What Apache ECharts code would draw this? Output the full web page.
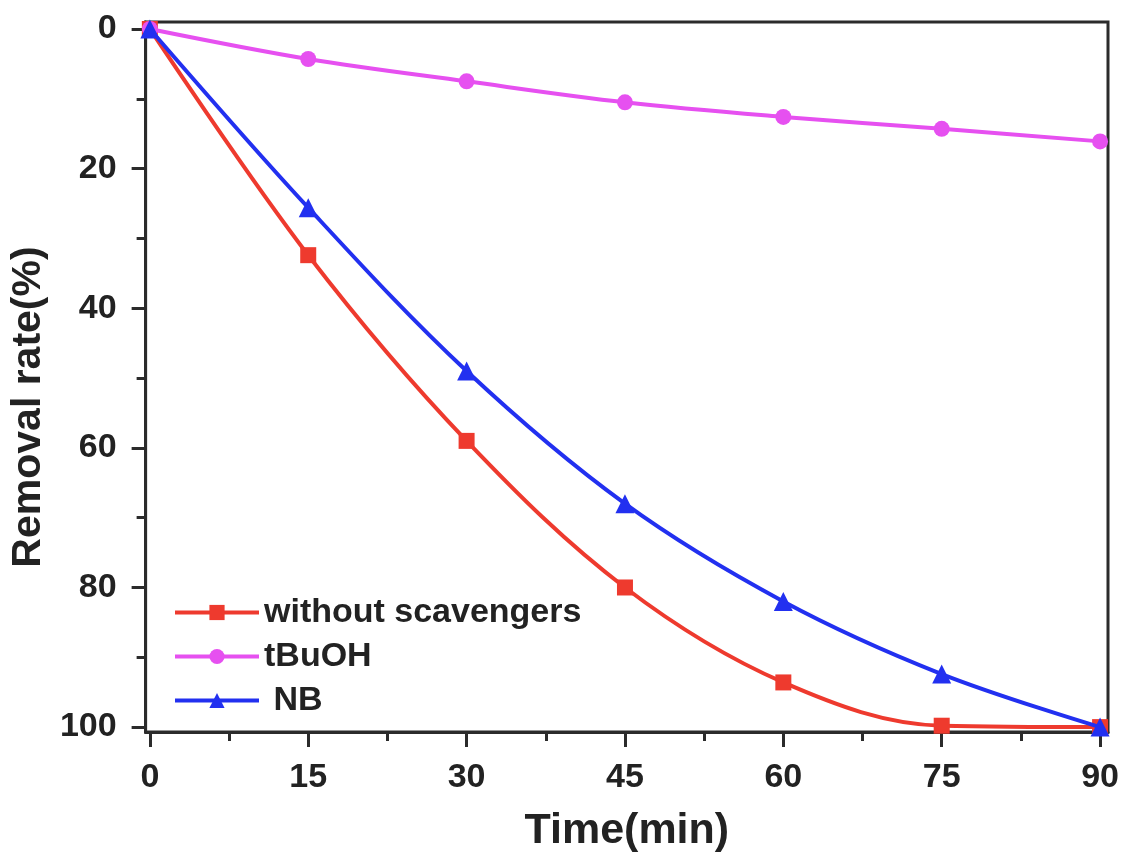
<!DOCTYPE html>
<html>
<head>
<meta charset="utf-8">
<script src="https://cdn.jsdelivr.net/npm/echarts@6/dist/echarts.min.js"></script>
<style>
  html, body { margin: 0; padding: 0; background: #fff; }
  #chart { width: 1124px; height: 858px; }
</style>
</head>
<body>
<div id="chart"></div>
<script>
// Sampling times (min)
const times = [0, 15, 30, 45, 60, 75, 90];

// Removal rate (%) for each scavenger condition
const withoutScavengers = [0, 32.4, 59.0, 80.0, 93.6, 99.8, 100];
const tBuOH = [0, 4.3, 7.5, 10.5, 12.6, 14.3, 16.1];
const NB = [0, 25.6, 49.0, 68.0, 82.0, 92.4, 100];

const seriesNames = ['without scavengers', 'tBuOH', 'NB'];

// Axis tick values
const xMajorTicks = [0, 15, 30, 45, 60, 75, 90];
const xMinorTicks = [7.5, 22.5, 37.5, 52.5, 67.5, 82.5];
const yMajorTicks = [0, 20, 40, 60, 80, 100];
const yMinorTicks = [10, 30, 50, 70, 90];

const FONT = '"Liberation Sans", Arial, sans-serif';
const AXIS_COLOR = '#2b2b2b';
const TEXT_COLOR = '#222';

const pairs = (ys) => times.map((t, i) => [t, ys[i]]);

const chart = echarts.init(document.getElementById('chart'), null, { renderer: 'canvas' });

const xRange = { min: -0.4, max: 90.75 };
const yRange = { min: -1, max: 100.7 };

chart.setOption({
  backgroundColor: '#ffffff',
  animation: false,
  grid: {
    left: 140, right: 16, top: 22, bottom: 125,
    show: true, borderColor: AXIS_COLOR, borderWidth: 3, backgroundColor: 'transparent'
  },
  legend: {
    orient: 'vertical',
    left: 168,
    top: 590,
    itemWidth: 84,
    itemHeight: 19,
    itemGap: 9,
    data: seriesNames,
    lineStyle: { width: 4 },
    // the NB entry carries a leading space in the key
    formatter: (name) => (name === 'NB' ? ' ' + name : name),
    textStyle: { fontFamily: FONT, fontWeight: 'bold', fontSize: 34, color: TEXT_COLOR, lineHeight: 35 }
  },
  xAxis: [
    {
      type: 'value', ...xRange,
      name: 'Time(min)', nameLocation: 'middle', nameGap: 78,
      nameTextStyle: { fontFamily: FONT, fontWeight: 'bold', fontSize: 43, color: TEXT_COLOR },
      axisLine: { show: true, onZero: false, lineStyle: { color: AXIS_COLOR, width: 3 } },
      axisTick: { show: true, inside: false, length: 15, lineStyle: { color: AXIS_COLOR, width: 3 }, customValues: xMajorTicks },
      axisLabel: { customValues: xMajorTicks, margin: 29, fontFamily: FONT, fontWeight: 'bold', fontSize: 34, color: TEXT_COLOR },
      splitLine: { show: false }
    },
    {
      type: 'value', ...xRange, position: 'bottom',
      axisLine: { show: false, onZero: false },
      axisTick: { show: true, inside: false, length: 9, lineStyle: { color: AXIS_COLOR, width: 3 }, customValues: xMinorTicks },
      axisLabel: { show: false, customValues: xMinorTicks },
      splitLine: { show: false }
    }
  ],
  yAxis: [
    {
      type: 'value', ...yRange, inverse: true,
      name: 'Removal rate(%)', nameLocation: 'middle', nameGap: 79,
      nameTextStyle: { fontFamily: FONT, fontWeight: 'bold', fontSize: 41, color: TEXT_COLOR, padding: [0, 60, 0, 0] },
      axisLine: { show: true, onZero: false, lineStyle: { color: AXIS_COLOR, width: 3 } },
      axisTick: { show: true, inside: false, length: 14, lineStyle: { color: AXIS_COLOR, width: 3 }, customValues: yMajorTicks },
      axisLabel: { customValues: yMajorTicks, margin: 29, fontFamily: FONT, fontWeight: 'bold', fontSize: 34, color: TEXT_COLOR },
      splitLine: { show: false }
    },
    {
      type: 'value', ...yRange, inverse: true, position: 'left',
      axisLine: { show: false, onZero: false },
      axisTick: { show: true, inside: false, length: 9, lineStyle: { color: AXIS_COLOR, width: 3 }, customValues: yMinorTicks },
      axisLabel: { show: false, customValues: yMinorTicks },
      splitLine: { show: false }
    }
  ],
  series: [
    {
      name: seriesNames[0], type: 'line', data: pairs(withoutScavengers), smooth: 0.35,
      symbol: 'rect', symbolSize: 16, color: '#ee3a2e',
      lineStyle: { width: 4 }, z: 3
    },
    {
      name: seriesNames[1], type: 'line', data: pairs(tBuOH), smooth: 0.35,
      symbol: 'circle', symbolSize: 16, color: '#e650f0',
      lineStyle: { width: 4 }, z: 4
    },
    {
      name: seriesNames[2], type: 'line', data: pairs(NB), smooth: 0.35,
      symbol: 'triangle', symbolSize: 19, color: '#2230f0',
      lineStyle: { width: 4 }, z: 5
    }
  ]
});
</script>
</body>
</html>
